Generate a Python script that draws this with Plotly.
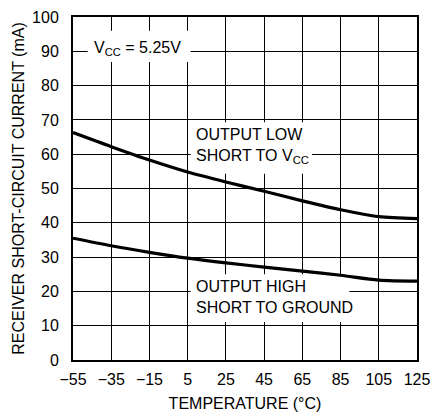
import plotly.graph_objects as go

# Data
temperature = [-55, -35, -15, 5, 25, 45, 65, 85, 105, 125]
out_low_short_vcc = [66.3, 62.2, 58.3, 54.8, 51.9, 49.2, 46.4, 43.8, 41.8, 41.2]
out_high_short_gnd = [35.5, 33.3, 31.4, 29.7, 28.3, 27.1, 25.9, 24.7, 23.3, 23.0]

x_ticks = [-55, -35, -15, 5, 25, 45, 65, 85, 105, 125]
y_ticks = [0, 10, 20, 30, 40, 50, 60, 70, 80, 90, 100]

FONT = "Liberation Sans, Arial, sans-serif"

fig = go.Figure()
for ys in (out_low_short_vcc, out_high_short_gnd):
    fig.add_trace(go.Scatter(x=temperature, y=ys, mode="lines",
                             line=dict(color="black", width=3.2, shape="spline", smoothing=0.8),
                             showlegend=False, hoverinfo="skip"))

axis_common = dict(showline=True, linecolor="black", linewidth=2, mirror=True,
                   showgrid=True, gridcolor="black", gridwidth=1, zeroline=False,
                   ticks="", tickfont=dict(family=FONT, size=16, color="black"))

fig.update_xaxes(range=[-55, 125], tickvals=x_ticks,
                 ticktext=[str(v).replace("-", "\u2212") for v in x_ticks],
                 ticklabelstandoff=4,
                 title=dict(text="TEMPERATURE (°C)", font=dict(family=FONT, size=16, color="black"), standoff=11),
                 **axis_common)
fig.update_yaxes(range=[0, 100], tickvals=y_ticks, ticklabelstandoff=9,
                 title=dict(text="RECEIVER SHORT-CIRCUIT CURRENT (mA)", font=dict(family=FONT, size=16, color="black"), standoff=3),
                 **axis_common)

# white label backgrounds, drawn between gridlines and curves
for x0, x1, y0, y1 in [(-47.3, 6.5, 86.9, 96.0), (6.5, 70.1, 54.3, 69.3), (6.5, 89.6, 11.1, 25.0)]:
    fig.add_shape(type="rect", x0=x0, x1=x1, y0=y0, y1=y1, xref="x", yref="y",
                  fillcolor="white", line=dict(width=0), layer="between")

ann_font = dict(family=FONT, size=16, color="black")
fig.add_annotation(x=-45.3, y=90.8, xanchor="left", yanchor="middle", showarrow=False,
                   text="V<sub>CC</sub> = 5.25V", font=ann_font)
fig.add_annotation(x=8.5, y=62.4, xanchor="left", yanchor="middle", showarrow=False, align="left",
                   text="OUTPUT LOW<br>SHORT TO V<sub>CC</sub>", font=ann_font)
fig.add_annotation(x=8.5, y=18.3, xanchor="left", yanchor="middle", showarrow=False, align="left",
                   text="OUTPUT HIGH<br>SHORT TO GROUND", font=ann_font)

fig.update_layout(width=439, height=419, margin=dict(l=73, r=15, t=9, b=58),
                  plot_bgcolor="white", paper_bgcolor="white")

fig.write_html("out.html", config={"displayModeBar": False},
               post_script="document.body.style.margin='0';document.body.style.overflow='hidden';")
